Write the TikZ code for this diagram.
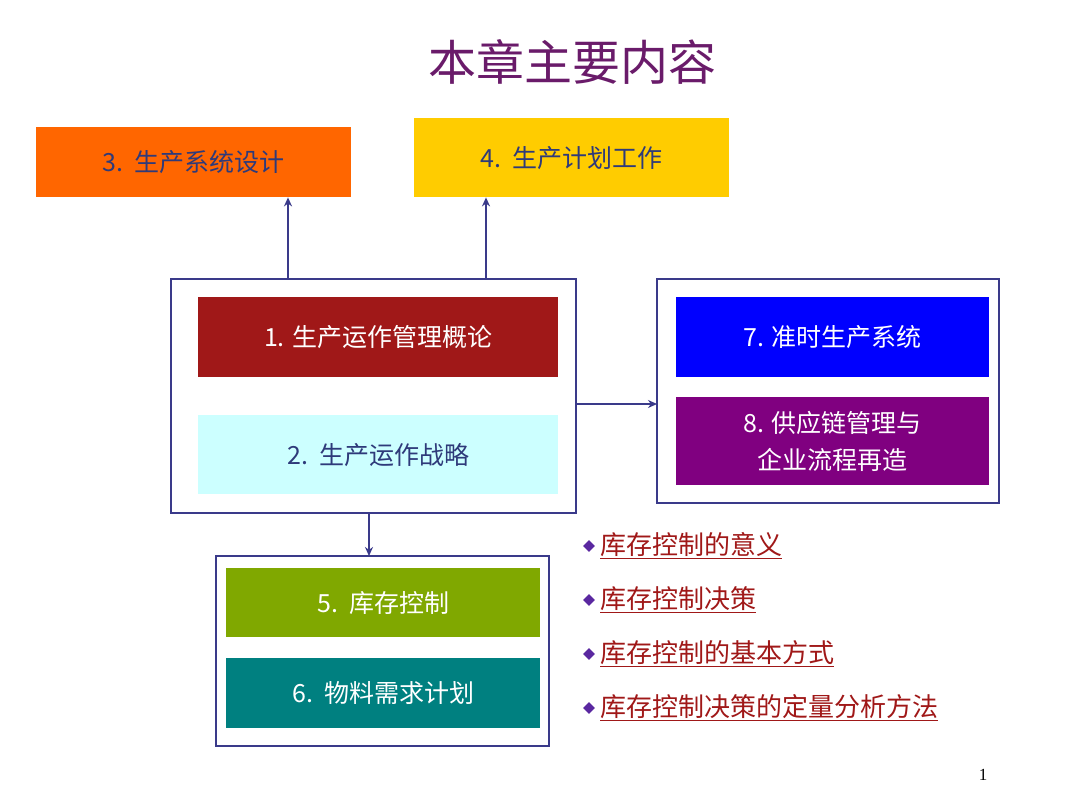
\documentclass[tikz,border=0pt]{standalone}
\usepackage{fontspec}
\setmainfont{Noto Sans CJK SC}
\newfontfamily\serifnum{Liberation Serif}
\usetikzlibrary{arrows.meta,shapes.geometric}
\definecolor{ttl}{HTML}{6A1B6A}
\definecolor{frm}{HTML}{3A3A8A}
\definecolor{txb}{HTML}{2E3A7A}
\definecolor{lnk}{HTML}{A01818}
\begin{document}
\begin{tikzpicture}[x=1pt,y=-1pt,
  box/.style={draw=none,anchor=north west,inner sep=0pt,font=\fontsize{25}{30}\selectfont,align=center},
  frame/.style={draw=frm,line width=1.2pt,fill=white},
  arr/.style={draw=frm,line width=1.8pt,-{Stealth[length=9pt,width=8pt]}},
  bul/.style={anchor=west,font=\fontsize{26}{30}\selectfont,text=lnk,inner sep=0pt}]
\useasboundingbox (0,0) rectangle (1080,810);
\fill[white] (0,0) rectangle (1080,810);
\node[text=ttl,font=\fontsize{48}{56}\selectfont] (title) at (572,62) {本章主要内容};
\node[box,fill={rgb,255:red,255;green,102;blue,0},minimum width=315pt,minimum height=70pt,text=txb] (b3) at (36,127) {3.\ \ 生产系统设计};
\node[box,fill={rgb,255:red,255;green,204;blue,0},minimum width=315pt,minimum height=79pt,text=txb] (b4) at (414,118) {4.\ \ 生产计划工作};
\draw[frame] (171,279) rectangle (576,513);
\coordinate (o1top3) at (288,279);
\coordinate (o1top4) at (486,279);
\coordinate (o1r) at (576,404);
\coordinate (o1b) at (369,513);
\node[box,fill={rgb,255:red,160;green,24;blue,24},minimum width=360pt,minimum height=80pt,text=white] (b1) at (198,297) {1. 生产运作管理概论};
\node[box,fill={rgb,255:red,204;green,255;blue,255},minimum width=360pt,minimum height=79pt,text=txb] (b2) at (198,415) {2.\ \ 生产运作战略};
\draw[frame] (657,279) rectangle (999,503);
\coordinate (o2l) at (657,404);
\node[box,fill={rgb,255:red,0;green,0;blue,255},minimum width=313pt,minimum height=80pt,text=white] (b7) at (676,297) {7. 准时生产系统};
\node[box,fill={rgb,255:red,128;green,0;blue,128},minimum width=313pt,minimum height=88pt,text=white,font=\fontsize{25}{37}\selectfont] (b8) at (676,397) {8. 供应链管理与\\企业流程再造};
\draw[frame] (216,556) rectangle (549,746);
\coordinate (o3t) at (369,556);
\node[box,fill={rgb,255:red,128;green,168;blue,0},minimum width=314pt,minimum height=69pt,text=white] (b5) at (226,568) {5.\ \ 库存控制};
\node[box,fill={rgb,255:red,0;green,128;blue,128},minimum width=314pt,minimum height=70pt,text=white] (b6) at (226,658) {6.\ \ 物料需求计划};
\draw[arr] (o1top3) -- (o1top3 |- b3.south);
\draw[arr] (o1top4) -- (o1top4 |- b4.south);
\draw[arr] (o1r) -- (o2l);
\draw[arr] (o1b) -- (o3t);
\foreach \y/\t/\n in {546/库存控制的意义/p1,600/库存控制决策/p2,654/库存控制的基本方式/p3,708/库存控制决策的定量分析方法/p4}{
  \node[diamond,fill={rgb,255:red,90;green,40;blue,160},inner sep=0pt,minimum size=12pt] (d\n) at (589,\y) {};
  \node[bul] (\n) at (600,\y) {\underline{\t}};
}
\node[font=\serifnum\fontsize{17}{20}\selectfont] (pg) at (983,775) {1};
\end{tikzpicture}
\end{document}
